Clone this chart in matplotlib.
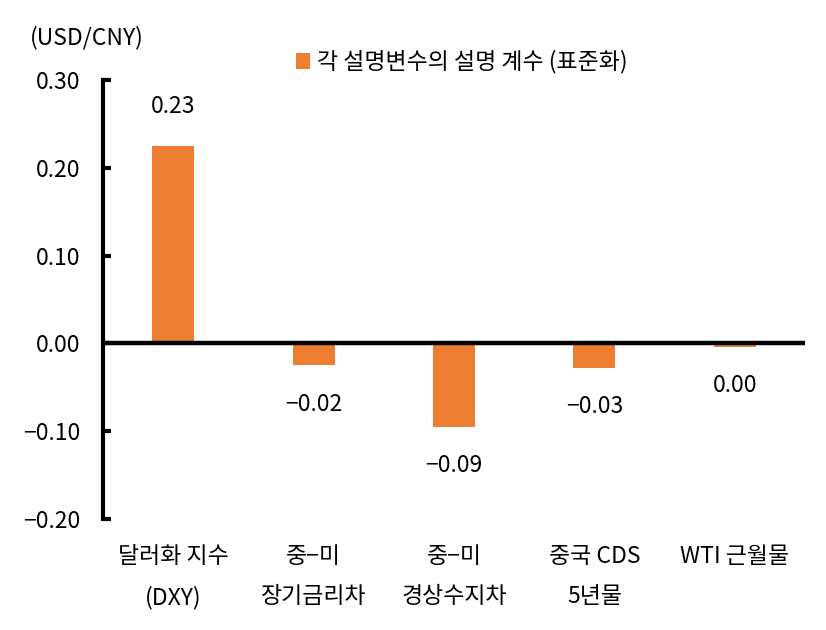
import matplotlib
matplotlib.use("Agg")
import matplotlib.pyplot as plt
import numpy as np

plt.rcParams['font.family'] = ['Noto Sans CJK KR', 'DejaVu Sans']
plt.rcParams['font.weight'] = 'light'
plt.rcParams['axes.unicode_minus'] = True

# data
categories = ['달러화 지수\n(DXY)', '중−미\n장기금리차', '중−미\n경상수지차', '중국 CDS\n5년물', 'WTI 근월물']
values = [0.225, -0.025, -0.095, -0.028, -0.004]
value_labels = ['0.23', '−0.02', '−0.09', '−0.03', '0.00']
yticks = [-0.20, -0.10, 0.00, 0.10, 0.20, 0.30]

orange = '#ED7D31'
fs = 16.5

fig = plt.figure(figsize=(8.26, 6.30), dpi=100)
ax = fig.add_axes([103/826, 1 - 519/630, (805 - 103)/826, (519 - 80)/630])

x = np.arange(len(categories))
ax.bar(x, values, width=0.3, color=orange, label='각 설명변수의 설명 계수 (표준화)', zorder=2)

# value labels, placed ~38px beyond bar end
for xi, v, lab in zip(x, values, value_labels):
    off = 28 if v > 0 else -28
    ax.annotate(lab, (xi, v), xytext=(0, off), textcoords='offset points',
                ha='center', va='center', fontsize=fs)

ax.axhline(0, color='black', lw=3.2, zorder=3)

ax.set_xlim(-0.5, len(categories) - 0.5)
ax.set_ylim(-0.2, 0.3)
ax.set_yticks(yticks)
ax.set_yticklabels([f'{t:.2f}'.replace('-', '−') for t in yticks], fontsize=fs)
ax.set_xticks(x)
ax.set_xticklabels(categories, fontsize=fs, linespacing=1.95)

for s in ['top', 'right', 'bottom']:
    ax.spines[s].set_visible(False)
ax.spines['left'].set_linewidth(3)
ax.tick_params(axis='y', direction='in', length=6, width=3, pad=16)
ax.tick_params(axis='x', length=0, pad=19)

fig.text(30/826, 1 - 38/630, '(USD/CNY)', fontsize=fs, va='center', ha='left')

ax.legend(loc='center left', bbox_to_anchor=(296/826, 1 - 62/630), bbox_transform=fig.transFigure,
          frameon=False, fontsize=fs, handlelength=0.6, handleheight=0.7, handletextpad=0.3,
          borderpad=0, borderaxespad=0)

fig.savefig('out.png', dpi=100)
